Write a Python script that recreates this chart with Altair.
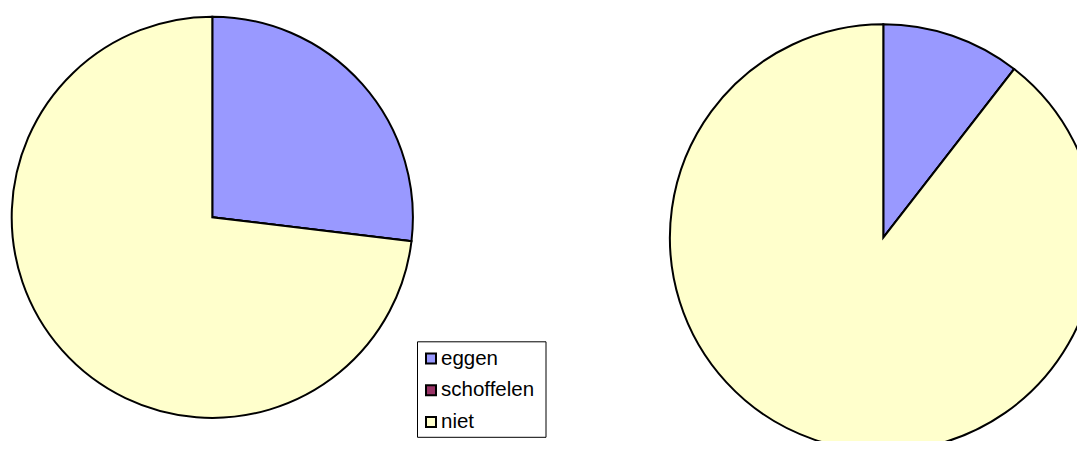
import altair as alt
import pandas as pd

categories = ["eggen", "schoffelen", "niet"]
colors = ["#9999FF", "#993366", "#FFFFCC"]
left_values = [26.9, 0.0, 73.1]
right_values = [10.5, 0.0, 89.5]

left_df = pd.DataFrame({"cat": categories, "val": left_values, "order": [0, 1, 2]})
right_df = pd.DataFrame({"cat": categories, "val": right_values, "order": [0, 1, 2]})
legend_df = pd.DataFrame({"cat": categories, "order": [0, 1, 2]})
box_df = pd.DataFrame({"box": [1]})

color = alt.Color("cat:N", scale=alt.Scale(domain=categories, range=colors), legend=None)


def pie(df, cx, cy, r):
    return alt.Chart(df).mark_arc(radius=r, stroke="black", strokeWidth=2).encode(
        theta=alt.Theta("val:Q", stack=True),
        color=color,
        order=alt.Order("order:Q"),
        x=alt.value(cx),
        y=alt.value(cy),
    )


left = pie(left_df, 204.3, 209.3, 200.6)
right = pie(right_df, 875.3, 229.7, 213.4)

box = alt.Chart(box_df).mark_rect(fill="white", stroke="black", strokeWidth=1).encode(
    x=alt.value(409.5), x2=alt.value(538), y=alt.value(333.8), y2=alt.value(429.3)
)

ypos = alt.Y("cat:N", scale=alt.Scale(domain=categories, range=[350.5, 414], padding=0), axis=None)

squares = alt.Chart(legend_df).mark_square(size=100, stroke="black", strokeWidth=2, opacity=1).encode(
    x=alt.value(423), y=ypos, color=color
)

labels = alt.Chart(legend_df).mark_text(
    align="left", baseline="middle", fontSize=20.5, font="Liberation Sans", color="black"
).encode(x=alt.value(433), y=ypos, text="cat:N")

chart = (
    alt.layer(left, right, box, squares, labels)
    .resolve_scale(theta="independent")
    .properties(width=1069, height=433, autosize=alt.AutoSizeParams(type="none"), padding=0)
    .configure_view(strokeWidth=0)
)

chart.save("out.html", embed_options={"renderer": "svg", "actions": False})
